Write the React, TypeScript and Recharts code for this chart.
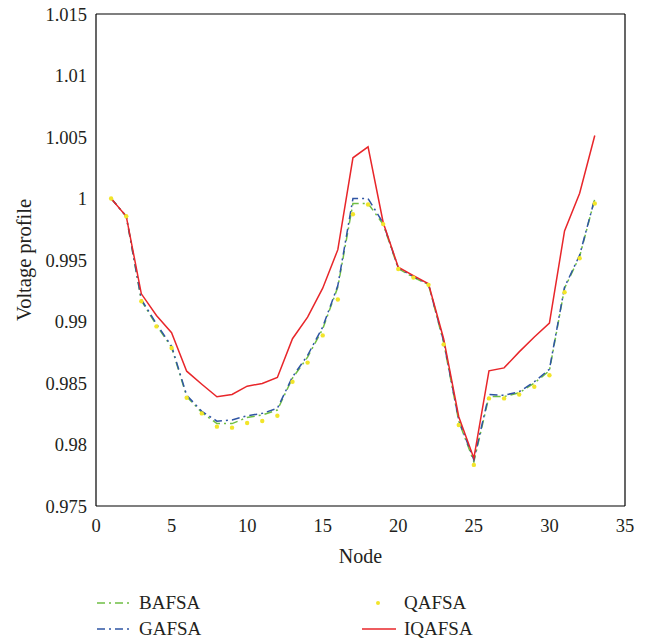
import React from 'react';
import { LineChart, Line, XAxis, YAxis } from 'recharts';

const nodes = Array.from({ length: 33 }, (_, i) => i + 1);

const bafsa = [1.0, 0.99856, 0.9917, 0.9897, 0.9879, 0.9839, 0.9826, 0.9817, 0.9817, 0.9822, 0.9824, 0.9828, 0.9854, 0.9871, 0.9894, 0.9928, 0.9996, 0.9996, 0.9979, 0.9943, 0.9936, 0.993, 0.9883, 0.9819, 0.9786, 0.9839, 0.9839, 0.9842, 0.985, 0.986, 0.9927, 0.9953, 0.99995];
const gafsa = [1.0, 0.99856, 0.9918, 0.9898, 0.988, 0.984, 0.9827, 0.9819, 0.982, 0.98234, 0.98253, 0.98294, 0.9855, 0.98725, 0.98955, 0.99292, 1.0, 1.0, 0.998, 0.99435, 0.99365, 0.99302, 0.9884, 0.98199, 0.97875, 0.98407, 0.984, 0.98429, 0.9851, 0.98612, 0.99279, 0.9954, 1.0];
const qafsa = [1.0, 0.99856, 0.99165, 0.9896, 0.98785, 0.9838, 0.98253, 0.98145, 0.98137, 0.98175, 0.98191, 0.98234, 0.9851, 0.98666, 0.98887, 0.99179, 0.99872, 0.99951, 0.99792, 0.99427, 0.99357, 0.99298, 0.98814, 0.98158, 0.97834, 0.98375, 0.98375, 0.98407, 0.98469, 0.98563, 0.99238, 0.99514, 0.99959];
const iqafsa = [1.0, 0.99856, 0.99225, 0.99049, 0.98909, 0.98596, 0.9849, 0.98388, 0.98407, 0.98474, 0.98496, 0.98545, 0.9886, 0.99036, 0.99271, 0.99584, 1.00331, 1.0042, 0.99805, 0.99441, 0.99373, 0.99306, 0.9886, 0.98226, 0.97889, 0.98599, 0.98623, 0.98753, 0.98874, 0.98987, 0.99737, 1.00043, 1.00512];

const xTicks = [0, 5, 10, 15, 20, 25, 30, 35];
const yTicks = [0.975, 0.98, 0.985, 0.99, 0.995, 1, 1.005, 1.01, 1.015];

const data = nodes.map((n, i) => ({
  node: n,
  BAFSA: bafsa[i],
  GAFSA: gafsa[i],
  QAFSA: qafsa[i],
  IQAFSA: iqafsa[i],
}));

const FONT = '"Liberation Serif", "DejaVu Serif", serif';
const TXT = '#231f20';
const GREEN = '#6fbe44';
const BLUE = '#2f55a4';
const YELLOW = '#f2e52a';
const RED = '#e8262a';
const DASH = '8 4 2 4';
const XDOM: [number, number] = [0, 35];
const YDOM: [number, number] = [0.975, 1.015];

const tickStyle = { fontFamily: FONT, fontSize: 18.5, fill: TXT };

const fmtY = (v: number) => String(parseFloat(v.toFixed(3)));

const YLabel = (props: any) => {
  const vb = props.viewBox || {};
  const cx = 24;
  const cy = vb.y + vb.height / 2;
  return (
    <text x={cx} y={cy} transform={`rotate(-90, ${cx}, ${cy})`} textAnchor="middle" dominantBaseline="central"
      style={{ fontFamily: FONT, fontSize: 20.5, fill: TXT }}>Voltage profile</text>
  );
};

const legendItems = [
  { name: 'BAFSA', color: GREEN, type: 'dash', left: 97, top: 590 },
  { name: 'GAFSA', color: BLUE, type: 'dash', left: 97, top: 616 },
  { name: 'QAFSA', color: YELLOW, type: 'dot', left: 362, top: 590 },
  { name: 'IQAFSA', color: RED, type: 'solid', left: 362, top: 616 },
];

export default function App() {
  return (
    <div style={{ position: 'absolute', left: 0, top: 0, width: 648, height: 644, background: '#fff' }}>
      <LineChart width={648} height={644} data={data} margin={{ top: 14, right: 23, left: 0, bottom: 0 }}>
        {/* inward tick frame (mirrored axes) */}
        <XAxis xAxisId="bm" orientation="bottom" mirror dataKey="node" type="number" domain={XDOM} ticks={xTicks} height={10}
          stroke="#000" strokeWidth={1.2} tickSize={4} tick={false} interval={0} />
        <XAxis xAxisId="tm" orientation="top" mirror dataKey="node" type="number" domain={XDOM} ticks={xTicks} height={10}
          stroke="#000" strokeWidth={1.2} tickSize={4} tick={false} interval={0} />
        <YAxis yAxisId="lm" orientation="left" mirror type="number" domain={YDOM} ticks={yTicks} width={10} interval={0}
          stroke="#000" strokeWidth={1.2} tickSize={4} tick={false} />
        <YAxis yAxisId="rm" orientation="right" mirror type="number" domain={YDOM} ticks={yTicks} width={10} interval={0}
          stroke="#000" strokeWidth={1.2} tickSize={4} tick={false} />
        {/* label axes */}
        <XAxis xAxisId="b" dataKey="node" type="number" domain={XDOM} ticks={xTicks} height={138}
          axisLine={false} tickLine={false} tickSize={0} tickMargin={13} tick={tickStyle} interval={0}
          label={{ value: 'Node', position: 'insideTop', offset: 43, style: { fontFamily: FONT, fontSize: 20, fill: TXT } }} />
        <YAxis yAxisId="l" type="number" domain={YDOM} ticks={yTicks} width={96} interval={0}
          axisLine={false} tickLine={false} tickSize={0} tickMargin={9} tick={tickStyle} tickFormatter={fmtY}
          label={<YLabel />} />
        <Line xAxisId="b" yAxisId="l" dataKey="BAFSA" stroke={GREEN} strokeWidth={1.5} strokeDasharray={DASH} dot={false} isAnimationActive={false} />
        <Line xAxisId="b" yAxisId="l" dataKey="GAFSA" stroke={BLUE} strokeWidth={1.5} strokeDasharray={DASH} dot={false} isAnimationActive={false} />
        <Line xAxisId="b" yAxisId="l" dataKey="QAFSA" stroke="none" dot={{ r: 2.2, fill: YELLOW, stroke: 'none' }} isAnimationActive={false} />
        <Line xAxisId="b" yAxisId="l" dataKey="IQAFSA" stroke={RED} strokeWidth={1.5} dot={false} isAnimationActive={false} />
      </LineChart>
      {legendItems.map((it) => (
        <div key={it.name} style={{ position: 'absolute', left: it.left, top: it.top, height: 26, display: 'flex', alignItems: 'center' }}>
          <svg width={36} height={26}>
            {it.type === 'dot' ? (
              <circle cx={16} cy={13} r={2} fill={it.color} />
            ) : (
              <line x1={0} y1={13} x2={34} y2={13} stroke={it.color} strokeWidth={1.5} strokeDasharray={it.type === 'dash' ? DASH : undefined} />
            )}
          </svg>
          <span style={{ marginLeft: 6, fontFamily: FONT, fontSize: 19, color: TXT, lineHeight: '26px' }}>{it.name}</span>
        </div>
      ))}
    </div>
  );
}
